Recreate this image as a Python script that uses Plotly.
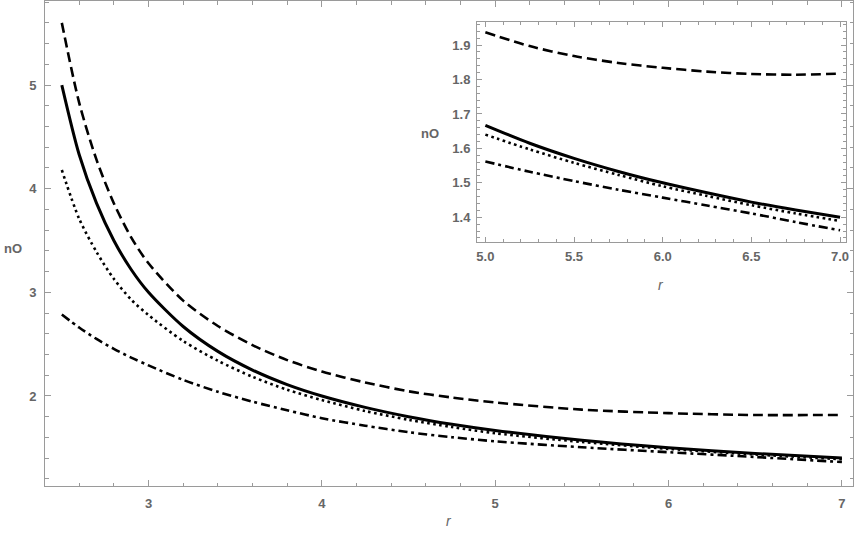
import plotly.graph_objects as go

# ---- data ----
r_main = [2.5, 2.6, 2.7, 2.8, 2.9, 3.0, 3.2, 3.4, 3.6, 3.8, 4.0, 4.25, 4.5, 4.75, 5.0, 5.5, 6.0, 6.5, 7.0]
solid_main = [5.00, 4.33, 3.86, 3.50, 3.22, 3.00, 2.67, 2.43, 2.25, 2.11, 2.00, 1.89, 1.80, 1.727, 1.667, 1.572, 1.500, 1.445, 1.400]
dashed_main = [5.60, 4.83, 4.28, 3.86, 3.53, 3.28, 2.92, 2.675, 2.49, 2.346, 2.235, 2.13, 2.045, 1.985, 1.937, 1.868, 1.834, 1.816, 1.817]
dotted_main = [4.18, 3.71, 3.39, 3.13, 2.93, 2.78, 2.53, 2.34, 2.185, 2.06, 1.96, 1.855, 1.77, 1.70, 1.640, 1.556, 1.489, 1.435, 1.389]
dashdot_main = [2.785, 2.66, 2.55, 2.455, 2.37, 2.295, 2.155, 2.04, 1.945, 1.862, 1.785, 1.713, 1.65, 1.602, 1.562, 1.505, 1.457, 1.411, 1.362]

r_inset = [5.0, 5.25, 5.5, 5.75, 6.0, 6.25, 6.5, 6.75, 7.0]
solid_inset = [1.667, 1.615, 1.571, 1.533, 1.500, 1.471, 1.444, 1.421, 1.400]
dashed_inset = [1.937, 1.897, 1.868, 1.848, 1.834, 1.823, 1.816, 1.814, 1.817]
dotted_inset = [1.640, 1.597, 1.558, 1.523, 1.490, 1.462, 1.435, 1.411, 1.389]
dashdot_inset = [1.562, 1.532, 1.505, 1.480, 1.457, 1.434, 1.411, 1.386, 1.362]

main_xticks = [3, 4, 5, 6, 7]
main_yticks = [2, 3, 4, 5]
inset_xticks = [5.0, 5.5, 6.0, 6.5, 7.0]
inset_yticks = [1.4, 1.5, 1.6, 1.7, 1.8, 1.9]

styles = [
    ("solid", dict(width=3.0, dash="solid")),
    ("dashed", dict(width=2.6, dash="10px,5px")),
    ("dotted", dict(width=2.6, dash="2.6px,3.4px")),
    ("dashdot", dict(width=2.6, dash="9px,4px,3px,4px")),
]
main_series = {"solid": solid_main, "dashed": dashed_main, "dotted": dotted_main, "dashdot": dashdot_main}
inset_series = {"solid": solid_inset, "dashed": dashed_inset, "dotted": dotted_inset, "dashdot": dashdot_inset}

fig = go.Figure()
for name, st in styles:
    fig.add_trace(go.Scatter(x=r_main, y=main_series[name], mode="lines",
                             line=dict(color="black", shape="spline", smoothing=0.8, **st),
                             xaxis="x", yaxis="y", showlegend=False, hoverinfo="skip"))
for name, st in styles:
    fig.add_trace(go.Scatter(x=r_inset, y=inset_series[name], mode="lines",
                             line=dict(color="black", shape="spline", smoothing=0.8, **st),
                             xaxis="x2", yaxis="y2", showlegend=False, hoverinfo="skip"))

FRAME = "#9a9a9a"
TICKFONT = dict(family="Liberation Sans", size=13, color="#666666", weight="bold")

def ax(rng, tickvals, minor_dtick, fmt, domain, anchor, maj_len=6, min_len=3.5):
    return dict(
        range=rng, domain=domain, anchor=anchor, automargin=False,
        showline=True, linecolor=FRAME, linewidth=1, mirror="ticks",
        ticks="inside", ticklen=maj_len, tickcolor=FRAME, tickwidth=1,
        tickvals=tickvals, tickformat=fmt, tickfont=TICKFONT,
        minor=dict(dtick=minor_dtick, ticks="inside", ticklen=min_len, tickcolor=FRAME, tickwidth=1, showgrid=False),
        showgrid=False, zeroline=False,
    )

xa = ax([2.403, 7.064], main_xticks, 0.2, "d", [0, 1], "y")
ya = ax([1.131, 5.811], main_yticks, 0.2, "d", [0, 1], "x")
xa2 = ax([4.953, 7.032], inset_xticks, 0.1, ".1f", [0.5347, 0.991], "y2", 5, 3)
ya2 = ax([1.329, 1.967], inset_yticks, 0.02, ".1f", [0.5037, 0.9567], "x2", 5, 3)
xa["ticklabelstandoff"] = 5
ya["ticklabelstandoff"] = 5
xa2["ticklabelstandoff"] = 3
ya2["ticklabelstandoff"] = 3

fig.update_layout(
    width=859, height=538,
    margin=dict(l=45, r=6, t=1, b=52),
    paper_bgcolor="white", plot_bgcolor="white",
    xaxis=xa, yaxis=ya, xaxis2=xa2, yaxis2=ya2,
    showlegend=False, hovermode=False,
)

LBL = dict(family="Liberation Sans", size=13, color="#666666", weight="bold")
RLBL = dict(family="Liberation Sans", size=14, color="#666666")
ann = [
    dict(text="nO", x=13, y=249, font=LBL),
    dict(text="<i>r</i>", x=449, y=521, font=RLBL),
    dict(text="nO", x=430, y=133, font=LBL),
    dict(text="<i>r</i>", x=661, y=285, font=RLBL),
]
for a in ann:
    fig.add_annotation(text=a["text"], xref="paper", yref="paper",
                       x=(a["x"] - 45) / 808, y=(486 - a["y"]) / 485,
                       xanchor="center", yanchor="middle", showarrow=False, font=a["font"])

fig.write_html("out.html", config={"displayModeBar": False},
               post_script="document.body.style.margin='0px';")
